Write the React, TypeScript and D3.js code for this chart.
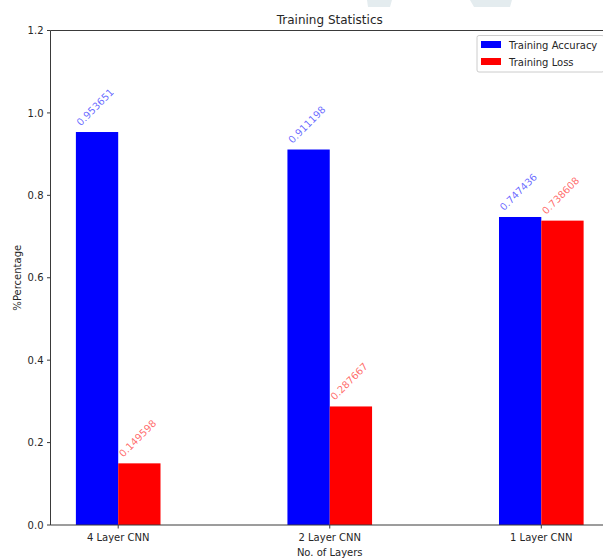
import React from "react";
import * as d3 from "d3";

const categories = ["4 Layer CNN", "2 Layer CNN", "1 Layer CNN"];
const accuracy = [0.953651, 0.911198, 0.747436];
const loss = [0.149598, 0.287667, 0.738608];
const accLabels = ["0.953651", "0.911198", "0.747436"];
const lossLabels = ["0.149598", "0.287667", "0.738608"];
const yTicks = [0, 0.2, 0.4, 0.6, 0.8, 1.0, 1.2];
const series = [
  { name: "Training Accuracy", color: "#0000ff", labelColor: "rgba(0,0,255,0.6)", values: accuracy, labels: accLabels, offset: -0.2 },
  { name: "Training Loss", color: "#ff0000", labelColor: "rgba(255,0,0,0.6)", values: loss, labels: lossLabels, offset: 0 },
];

const W = 603;
const H = 560;
const left = 50.5;
const right = 609;
const top = 30.5;
const bottom = 525;
const barW = 0.2;
const FONT = "DejaVu Sans";
const TXT = "#262626";
const AX = "#3a3a3a";

export default function App() {
  const x = d3.scaleLinear().domain([-0.32, 2.32]).range([left, right]);
  const y = d3.scaleLinear().domain([0, 1.2]).range([bottom, top]);
  const yFmt = d3.format(".1f");

  return (
    <svg width={W} height={H} style={{ position: "absolute", left: 0, top: 0, background: "#fff" }} fontFamily={FONT}>
      <rect x={0} y={0} width={W} height={H} fill="#fff" />
      {/* faint watermark */}
      <polygon points="367,0 392,0 390,7 368,7" fill="#e4ecef" />
      <polygon points="470,0 512,0 510,7 474,7" fill="#e4ecef" />

      {/* bars */}
      {series.map((s) =>
        s.values.map((v, i) => (
          <rect
            key={s.name + i}
            x={x(i + s.offset)}
            y={y(v)}
            width={x(i + s.offset + barW) - x(i + s.offset)}
            height={y(0) - y(v)}
            fill={s.color}
          />
        ))
      )}

      {/* value labels */}
      {series.map((s) =>
        s.values.map((v, i) => {
          const tx = x(i + s.offset) + 5;
          const ty = y(v + 0.01) - 1.5;
          return (
            <text
              key={"l" + s.name + i}
              x={tx}
              y={ty}
              fontSize={10}
              fill={s.labelColor}
              transform={`rotate(-45 ${tx} ${ty})`}
            >
              {s.labels[i]}
            </text>
          );
        })
      )}

      {/* spines */}
      <line x1={left} x2={W} y1={top} y2={top} stroke={AX} strokeWidth={1} />
      <line x1={left} x2={W} y1={bottom} y2={bottom} stroke={AX} strokeWidth={1} />
      <line x1={left} x2={left} y1={top} y2={bottom} stroke={AX} strokeWidth={1} />

      {/* y ticks */}
      {yTicks.map((t) => (
        <g key={"y" + t}>
          <line x1={left - 3.5} x2={left} y1={y(t)} y2={y(t)} stroke={AX} strokeWidth={1} />
          <text x={left - 7} y={y(t) + 3.6} fontSize={10} textAnchor="end" fill={TXT}>
            {yFmt(t)}
          </text>
        </g>
      ))}

      {/* x ticks */}
      {categories.map((c, i) => (
        <g key={"x" + c}>
          <line x1={x(i)} x2={x(i)} y1={bottom} y2={bottom + 3.5} stroke={AX} strokeWidth={1} />
          <text x={x(i)} y={bottom + 16} fontSize={10} textAnchor="middle" fill={TXT}>
            {c}
          </text>
        </g>
      ))}

      {/* axis labels */}
      <text x={x(1)} y={bottom + 31} fontSize={10} textAnchor="middle" fill={TXT}>
        No. of Layers
      </text>
      <text
        x={21}
        y={(top + bottom) / 2}
        fontSize={10}
        textAnchor="middle"
        fill={TXT}
        transform={`rotate(-90 21 ${(top + bottom) / 2})`}
      >
        %Percentage
      </text>

      {/* title */}
      <text x={(left + right) / 2} y={top - 7} fontSize={12} textAnchor="middle" fill={TXT}>
        Training Statistics
      </text>

      {/* legend */}
      <g>
        <rect x={477} y={35.5} width={127} height={36.5} rx={2} fill="rgba(255,255,255,0.8)" stroke="#cccccc" strokeWidth={1} />
        {series.map((s, i) => (
          <g key={"lg" + s.name}>
            <rect x={481} y={41 + i * 17} width={20} height={7} fill={s.color} />
            <text x={509} y={48.5 + i * 17} fontSize={10} fill={TXT}>
              {s.name}
            </text>
          </g>
        ))}
      </g>
    </svg>
  );
}
